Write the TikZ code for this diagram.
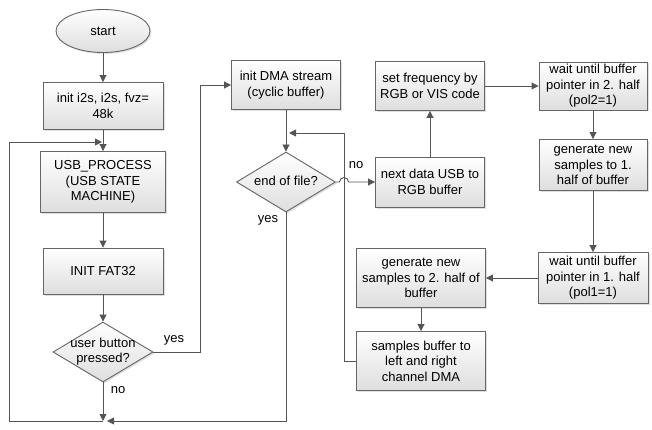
\documentclass[tikz,border=0pt]{standalone}
\usepackage{fontspec}
\setmainfont{Liberation Sans}
\usetikzlibrary{shapes.geometric,arrows.meta,shadows}

\definecolor{linegray}{HTML}{555555}
\definecolor{boxgray}{HTML}{666666}

% text that may run over the diamond border
\newcommand{\dtext}[1]{\makebox[0pt]{\begin{tabular}{@{}c@{}}#1\end{tabular}}}

\begin{document}
\begin{tikzpicture}[
            x = 1pt, y = -1pt, % pixel grid, y down
            > = {Triangle[length=7pt,width=7pt]}, % arrow head style
            font = \fontsize{13}{15.5}\selectfont,
            line width = 0.9pt, % line style
            draw = linegray,
            every node/.style = {align=center, inner sep=0pt, text=black},
            boxbase/.style = {draw=boxgray, top color=white, bottom color=black!13,
                drop shadow={shadow xshift=1.5pt, shadow yshift=-1.5pt, opacity=0.25}},
            process/.style = {shape=rectangle, boxbase},
            decision/.style = {shape=diamond, boxbase},
            terminal/.style = {shape=ellipse, boxbase}
        ]
\useasboundingbox (0,0) rectangle (652,430);

\node[terminal, minimum width=94pt, minimum height=43pt] (start) at (103,31) {start};
\node[process, minimum width=120pt, minimum height=47pt] (init) at (103,106) {init i2s, i2s, fvz=\\48k};
\node[process, minimum width=125pt, minimum height=61pt] (usb) at (103,182) {USB\_PROCESS\\(USB STATE\\MACHINE)};
\node[process, minimum width=120pt, minimum height=46pt] (fat) at (103,271) {INIT FAT32};
\node[decision, minimum width=100pt, minimum height=60pt] (button) at (103,352) {\dtext{user button\\pressed?}};

\node[process, minimum width=109pt, minimum height=49pt] (dma) at (286,85) {init DMA stream\\(cyclic buffer)};
\node[decision, minimum width=99pt, minimum height=60pt] (eof) at (286,182) {\dtext{end of file?}};

\node[process, minimum width=109pt, minimum height=49pt] (freq) at (430,86) {set frequency by\\RGB or VIS code};
\node[process, minimum width=109pt, minimum height=50pt] (next) at (430,182) {next data USB to\\RGB buffer};
\node[process, minimum width=108pt, minimum height=48pt] (wait2) at (593,86) {wait until buffer\\pointer in 2. half\\(pol2=1)};
\node[process, minimum width=108pt, minimum height=51pt] (gen1) at (593,165) {generate new\\samples to 1.\\half of buffer};
\node[process, minimum width=110pt, minimum height=51pt] (wait1) at (593,278) {wait until buffer\\pointer in 1. half\\(pol1=1)};
\node[process, minimum width=129pt, minimum height=59pt] (gen2) at (421,278) {generate new\\samples to 2. half of\\buffer};
\node[process, minimum width=129pt, minimum height=59pt] (samples) at (421,361) {samples buffer to\\left and right\\channel DMA};

\node (noA) at (118,390) {no};
\node (yesA) at (174,340) {yes};
\node (noB) at (356,165) {no};
\node (yesB) at (268,220) {yes};

\coordinate (join) at (103,421);
\coordinate (edgeL) at (9,421);
\coordinate (back) at (102,142);
\coordinate (edgeR) at (344,361);
\coordinate (ret) at (289,133);
\coordinate (jumpL) at (339.5,182);

\path [->] (start) edge (init);
\path [->] (init) edge (usb);
\path [->] (usb) edge (fat);
\path [->] (fat) edge (button);
\draw [->] (button) -- (join);
\draw [->] (eof) |- ([xshift=4pt]join);
\draw [->] (join) -- (edgeL) |- (back);
\draw [->] (button.east) -- ++(47,0) |- (dma);
\path [->] (dma) edge (eof);
\draw [->] (eof.east) -- (jumpL) arc[start angle=180, end angle=0, radius=4.5pt] -- (next.west);
\path [->] (next) edge (freq);
\path [->] (freq) edge (wait2);
\path [->] (wait2) edge (gen1);
\path [->] (gen1) edge (wait1);
\path [->] (wait1) edge (gen2);
\path [->] (gen2) edge (samples);
\draw [->] (samples.west) -- (edgeR) |- (ret);
\end{tikzpicture}
\end{document}
